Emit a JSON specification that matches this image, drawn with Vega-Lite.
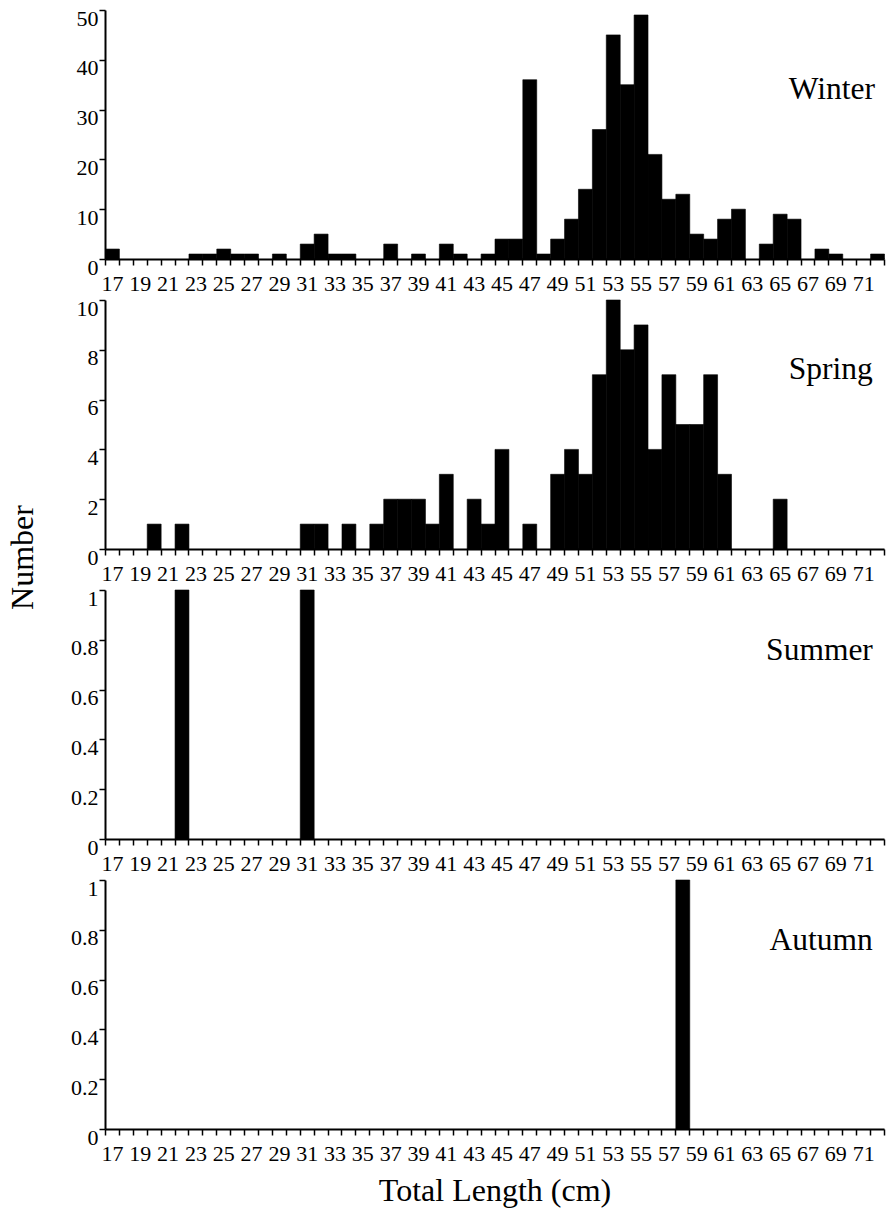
{
  "$schema": "https://vega.github.io/schema/vega-lite/v6.json",
  "autosize": {"type": "pad"},
  "padding": {"left": 6, "top": 7, "right": 4, "bottom": 5},
  "background": "white",
  "bounds": "flush",
  "spacing": 41,
  "datasets": {
    "fish": [
      {"season": "Winter", "len": 17, "n": 2},
      {"season": "Winter", "len": 23, "n": 1},
      {"season": "Winter", "len": 24, "n": 1},
      {"season": "Winter", "len": 25, "n": 2},
      {"season": "Winter", "len": 26, "n": 1},
      {"season": "Winter", "len": 27, "n": 1},
      {"season": "Winter", "len": 29, "n": 1},
      {"season": "Winter", "len": 31, "n": 3},
      {"season": "Winter", "len": 32, "n": 5},
      {"season": "Winter", "len": 33, "n": 1},
      {"season": "Winter", "len": 34, "n": 1},
      {"season": "Winter", "len": 37, "n": 3},
      {"season": "Winter", "len": 39, "n": 1},
      {"season": "Winter", "len": 41, "n": 3},
      {"season": "Winter", "len": 42, "n": 1},
      {"season": "Winter", "len": 44, "n": 1},
      {"season": "Winter", "len": 45, "n": 4},
      {"season": "Winter", "len": 46, "n": 4},
      {"season": "Winter", "len": 47, "n": 36},
      {"season": "Winter", "len": 48, "n": 1},
      {"season": "Winter", "len": 49, "n": 4},
      {"season": "Winter", "len": 50, "n": 8},
      {"season": "Winter", "len": 51, "n": 14},
      {"season": "Winter", "len": 52, "n": 26},
      {"season": "Winter", "len": 53, "n": 45},
      {"season": "Winter", "len": 54, "n": 35},
      {"season": "Winter", "len": 55, "n": 49},
      {"season": "Winter", "len": 56, "n": 21},
      {"season": "Winter", "len": 57, "n": 12},
      {"season": "Winter", "len": 58, "n": 13},
      {"season": "Winter", "len": 59, "n": 5},
      {"season": "Winter", "len": 60, "n": 4},
      {"season": "Winter", "len": 61, "n": 8},
      {"season": "Winter", "len": 62, "n": 10},
      {"season": "Winter", "len": 64, "n": 3},
      {"season": "Winter", "len": 65, "n": 9},
      {"season": "Winter", "len": 66, "n": 8},
      {"season": "Winter", "len": 68, "n": 2},
      {"season": "Winter", "len": 69, "n": 1},
      {"season": "Winter", "len": 72, "n": 1},
      {"season": "Spring", "len": 20, "n": 1},
      {"season": "Spring", "len": 22, "n": 1},
      {"season": "Spring", "len": 31, "n": 1},
      {"season": "Spring", "len": 32, "n": 1},
      {"season": "Spring", "len": 34, "n": 1},
      {"season": "Spring", "len": 36, "n": 1},
      {"season": "Spring", "len": 37, "n": 2},
      {"season": "Spring", "len": 38, "n": 2},
      {"season": "Spring", "len": 39, "n": 2},
      {"season": "Spring", "len": 40, "n": 1},
      {"season": "Spring", "len": 41, "n": 3},
      {"season": "Spring", "len": 43, "n": 2},
      {"season": "Spring", "len": 44, "n": 1},
      {"season": "Spring", "len": 45, "n": 4},
      {"season": "Spring", "len": 47, "n": 1},
      {"season": "Spring", "len": 49, "n": 3},
      {"season": "Spring", "len": 50, "n": 4},
      {"season": "Spring", "len": 51, "n": 3},
      {"season": "Spring", "len": 52, "n": 7},
      {"season": "Spring", "len": 53, "n": 10},
      {"season": "Spring", "len": 54, "n": 8},
      {"season": "Spring", "len": 55, "n": 9},
      {"season": "Spring", "len": 56, "n": 4},
      {"season": "Spring", "len": 57, "n": 7},
      {"season": "Spring", "len": 58, "n": 5},
      {"season": "Spring", "len": 59, "n": 5},
      {"season": "Spring", "len": 60, "n": 7},
      {"season": "Spring", "len": 61, "n": 3},
      {"season": "Spring", "len": 65, "n": 2},
      {"season": "Summer", "len": 22, "n": 1},
      {"season": "Summer", "len": 31, "n": 1},
      {"season": "Autumn", "len": 58, "n": 1}
    ]
  },
  "vconcat": [
    {
      "width": 779, "height": 249,
      "layer": [
        {
          "data": {"name": "fish"},
          "transform": [{"filter": "datum.season == 'Winter'"}],
          "mark": {"type": "bar", "color": "black", "stroke": "black", "strokeWidth": 0.6, "binSpacing": 0},
          "encoding": {
            "x": {"field": "len", "type": "quantitative", "bin": {"binned": true, "step": 1},
              "scale": {"domain": [17, 73], "nice": false, "zero": false},
              "axis": {"title": null, "labelOverlap": false, "labelFlush": false, "tickCount": 500,
                "values": [17,17.5,18,19,19.5,20,21,21.5,22,23,23.5,24,25,25.5,26,27,27.5,28,29,29.5,30,31,31.5,32,33,33.5,34,35,35.5,36,37,37.5,38,39,39.5,40,41,41.5,42,43,43.5,44,45,45.5,46,47,47.5,48,49,49.5,50,51,51.5,52,53,53.5,54,55,55.5,56,57,57.5,58,59,59.5,60,61,61.5,62,63,63.5,64,65,65.5,66,67,67.5,68,69,69.5,70,71,71.5,72,73],
                "labelExpr": "datum.value % 1 == 0 ? '' : format(floor(datum.value), 'd')",
                "tickOpacity": {"condition": {"test": "datum.value % 1 == 0", "value": 1}, "value": 0}}},
            "y": {"field": "n", "type": "quantitative", "scale": {"domain": [0, 50], "nice": false},
              "axis": {"title": null, "values": [0, 10, 20, 30, 40, 50], "labelExpr": "'' + datum.value"}}
          }
        },
        {
          "data": {"values": [{"label": "Winter"}]},
          "mark": {"type": "text", "align": "right", "baseline": "alphabetic", "font": "Liberation Serif", "fontSize": 31.5, "color": "black"},
          "encoding": {
            "x": {"datum": 72.35, "type": "quantitative"},
            "y": {"datum": 32.1, "type": "quantitative"},
            "text": {"field": "label"}
          }
        }
      ]
    },
    {
      "width": 779, "height": 249,
      "layer": [
        {
          "data": {"name": "fish"},
          "transform": [{"filter": "datum.season == 'Spring'"}],
          "mark": {"type": "bar", "color": "black", "stroke": "black", "strokeWidth": 0.6, "binSpacing": 0},
          "encoding": {
            "x": {"field": "len", "type": "quantitative", "bin": {"binned": true, "step": 1},
              "scale": {"domain": [17, 73], "nice": false, "zero": false},
              "axis": {"title": null, "labelOverlap": false, "labelFlush": false, "tickCount": 500,
                "values": [17,17.5,18,19,19.5,20,21,21.5,22,23,23.5,24,25,25.5,26,27,27.5,28,29,29.5,30,31,31.5,32,33,33.5,34,35,35.5,36,37,37.5,38,39,39.5,40,41,41.5,42,43,43.5,44,45,45.5,46,47,47.5,48,49,49.5,50,51,51.5,52,53,53.5,54,55,55.5,56,57,57.5,58,59,59.5,60,61,61.5,62,63,63.5,64,65,65.5,66,67,67.5,68,69,69.5,70,71,71.5,72,73],
                "labelExpr": "datum.value % 1 == 0 ? '' : format(floor(datum.value), 'd')",
                "tickOpacity": {"condition": {"test": "datum.value % 1 == 0", "value": 1}, "value": 0}}},
            "y": {"field": "n", "type": "quantitative", "scale": {"domain": [0, 10], "nice": false},
              "axis": {"title": null, "values": [0, 2, 4, 6, 8, 10], "labelExpr": "'' + datum.value"}}
          }
        },
        {
          "data": {"values": [{"label": "Spring"}]},
          "mark": {"type": "text", "align": "right", "baseline": "alphabetic", "font": "Liberation Serif", "fontSize": 31.5, "color": "black"},
          "encoding": {
            "x": {"datum": 72.2, "type": "quantitative"},
            "y": {"datum": 6.83, "type": "quantitative"},
            "text": {"field": "label"}
          }
        }
      ]
    },
    {
      "width": 779, "height": 249,
      "layer": [
        {
          "data": {"name": "fish"},
          "transform": [{"filter": "datum.season == 'Summer'"}],
          "mark": {"type": "bar", "color": "black", "stroke": "black", "strokeWidth": 0.6, "binSpacing": 0},
          "encoding": {
            "x": {"field": "len", "type": "quantitative", "bin": {"binned": true, "step": 1},
              "scale": {"domain": [17, 73], "nice": false, "zero": false},
              "axis": {"title": null, "labelOverlap": false, "labelFlush": false, "tickCount": 500,
                "values": [17,17.5,18,19,19.5,20,21,21.5,22,23,23.5,24,25,25.5,26,27,27.5,28,29,29.5,30,31,31.5,32,33,33.5,34,35,35.5,36,37,37.5,38,39,39.5,40,41,41.5,42,43,43.5,44,45,45.5,46,47,47.5,48,49,49.5,50,51,51.5,52,53,53.5,54,55,55.5,56,57,57.5,58,59,59.5,60,61,61.5,62,63,63.5,64,65,65.5,66,67,67.5,68,69,69.5,70,71,71.5,72,73],
                "labelExpr": "datum.value % 1 == 0 ? '' : format(floor(datum.value), 'd')",
                "tickOpacity": {"condition": {"test": "datum.value % 1 == 0", "value": 1}, "value": 0}}},
            "y": {"field": "n", "type": "quantitative", "scale": {"domain": [0, 1], "nice": false},
              "axis": {"title": "Number", "values": [0, 0.2, 0.4, 0.6, 0.8, 1], "labelExpr": "'' + datum.value",
                "titleX": -72.5, "titleY": -33, "titleAngle": -90, "titleAlign": "center", "titleBaseline": "alphabetic"}}
          }
        },
        {
          "data": {"values": [{"label": "Summer"}]},
          "mark": {"type": "text", "align": "right", "baseline": "alphabetic", "font": "Liberation Serif", "fontSize": 31.5, "color": "black"},
          "encoding": {
            "x": {"datum": 72.2, "type": "quantitative"},
            "y": {"datum": 0.72, "type": "quantitative"},
            "text": {"field": "label"}
          }
        }
      ]
    },
    {
      "width": 779, "height": 249,
      "layer": [
        {
          "data": {"name": "fish"},
          "transform": [{"filter": "datum.season == 'Autumn'"}],
          "mark": {"type": "bar", "color": "black", "stroke": "black", "strokeWidth": 0.6, "binSpacing": 0},
          "encoding": {
            "x": {"field": "len", "type": "quantitative", "bin": {"binned": true, "step": 1},
              "scale": {"domain": [17, 73], "nice": false, "zero": false},
              "axis": {"title": "Total Length (cm)", "titlePadding": 11, "labelOverlap": false, "labelFlush": false, "tickCount": 500,
                "values": [17,17.5,18,19,19.5,20,21,21.5,22,23,23.5,24,25,25.5,26,27,27.5,28,29,29.5,30,31,31.5,32,33,33.5,34,35,35.5,36,37,37.5,38,39,39.5,40,41,41.5,42,43,43.5,44,45,45.5,46,47,47.5,48,49,49.5,50,51,51.5,52,53,53.5,54,55,55.5,56,57,57.5,58,59,59.5,60,61,61.5,62,63,63.5,64,65,65.5,66,67,67.5,68,69,69.5,70,71,71.5,72,73],
                "labelExpr": "datum.value % 1 == 0 ? '' : format(floor(datum.value), 'd')",
                "tickOpacity": {"condition": {"test": "datum.value % 1 == 0", "value": 1}, "value": 0}}},
            "y": {"field": "n", "type": "quantitative", "scale": {"domain": [0, 1], "nice": false},
              "axis": {"title": null, "values": [0, 0.2, 0.4, 0.6, 0.8, 1], "labelExpr": "'' + datum.value"}}
          }
        },
        {
          "data": {"values": [{"label": "Autumn"}]},
          "mark": {"type": "text", "align": "right", "baseline": "alphabetic", "font": "Liberation Serif", "fontSize": 31.5, "color": "black"},
          "encoding": {
            "x": {"datum": 72.2, "type": "quantitative"},
            "y": {"datum": 0.72, "type": "quantitative"},
            "text": {"field": "label"}
          }
        }
      ]
    }
  ],
  "config": {
    "view": {"stroke": null},
    "axis": {
      "domainColor": "black", "domainWidth": 2,
      "tickColor": "black", "tickWidth": 1.5, "tickSize": 6,
      "labelColor": "black", "labelFont": "Liberation Serif", "labelFontSize": 22,
      "grid": false, "labelFlush": false, "labelOverlap": false, "labelBound": false,
      "titleFont": "Liberation Serif", "titleFontSize": 32, "titleFontWeight": "normal", "titleColor": "black"
    },
    "axisX": {"labelPadding": 8},
    "axisY": {"labelPadding": 1, "labelBaseline": "top", "labelOffset": -2}
  }
}
